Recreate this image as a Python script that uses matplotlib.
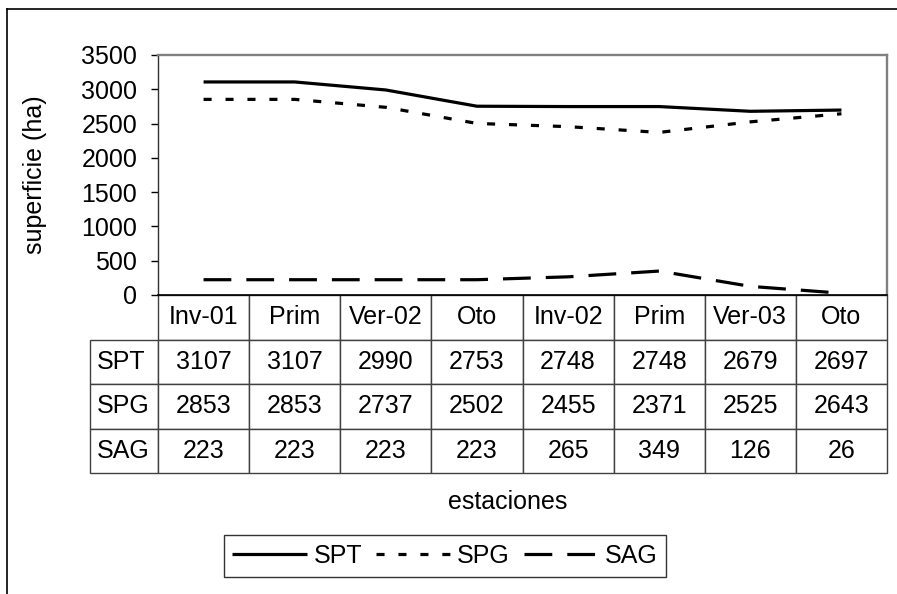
import numpy as np
import matplotlib
matplotlib.use("Agg")
import matplotlib.pyplot as plt
from matplotlib.lines import Line2D
from matplotlib.table import Table

plt.rcParams['font.family'] = ['Liberation Sans', 'DejaVu Sans']
plt.rcParams['lines.scale_dashes'] = False

estaciones = ["Inv-01", "Prim", "Ver-02", "Oto", "Inv-02", "Prim", "Ver-03", "Oto"]
series = ["SPT", "SPG", "SAG"]
spt = [3107, 3107, 2990, 2753, 2748, 2748, 2679, 2697]
spg = [2853, 2853, 2737, 2502, 2455, 2371, 2525, 2643]
sag = [223, 223, 223, 223, 265, 349, 126, 26]
y_ticks = [0, 500, 1000, 1500, 2000, 2500, 3000, 3500]

W, H = 897, 594
fig = plt.figure(figsize=(W / 100, H / 100), dpi=100)

# marco exterior del grafico (solo se ven el borde izquierdo y el superior)
fig.add_artist(Line2D([7 / W, 7 / W], [0, 1 - 9 / H], color='black', lw=1.2, transform=fig.transFigure))
fig.add_artist(Line2D([7 / W, 1], [1 - 9 / H, 1 - 9 / H], color='black', lw=1.2, transform=fig.transFigure))

ax = fig.add_axes([158 / W, 1 - 295 / H, 729 / W, 240 / H])
x = np.arange(len(estaciones))

ax.plot(x, spt, color='black', lw=2.3, solid_capstyle='butt', label="SPT")
ax.plot(x, spg, color='black', lw=2.3, dashes=(5.8, 10.0), dash_capstyle='butt', label="SPG")
ax.plot(x, sag, color='black', lw=2.3, dashes=(20, 10.8), dash_capstyle='butt', label="SAG")

ax.set_xlim(-0.5, len(estaciones) - 0.5)
ax.set_ylim(0, 3500)
ax.set_yticks(y_ticks)
ax.set_xticks([])
ax.tick_params(axis='y', direction='out', length=5, width=1, pad=10, labelsize=18)

for side in ('top', 'right'):
    ax.spines[side].set_color('#808080')
    ax.spines[side].set_linewidth(1.7)
ax.spines['left'].set_color('#303030')
ax.spines['left'].set_linewidth(1)
ax.spines['bottom'].set_color('black')
ax.spines['bottom'].set_linewidth(1.2)

ax.set_ylabel("superficie (ha)", fontsize=18)
ax.yaxis.set_label_coords((47 - 158) / 729, 0.5)

# tabla de datos bajo el eje; el bbox cubre solo las columnas de datos,
# la columna de nombres de serie queda a la izquierda
col_w = 1 / len(estaciones)
row_w = 68 / 729
tab_h = 178 / 240
cell_h = tab_h / 4
tbl = Table(ax, bbox=[0, -tab_h, 1, tab_h])
for j, name in enumerate(estaciones):
    tbl.add_cell(0, j, col_w, cell_h, text=name, loc='center')
for i, (name, vals) in enumerate(zip(series, (spt, spg, sag))):
    tbl.add_cell(i + 1, -1, row_w, cell_h, text=name, loc='left')
    for j, v in enumerate(vals):
        tbl.add_cell(i + 1, j, col_w, cell_h, text=str(v), loc='center')
tbl.auto_set_font_size(False)
tbl.set_fontsize(18)
for cell in tbl.get_celld().values():
    cell.set_edgecolor('#404040')
    cell.set_linewidth(1)
ax.add_table(tbl)

fig.text(508 / W, 1 - 502 / H, "estaciones", fontsize=18, ha='center', va='center')

leg = fig.legend(loc='center', bbox_to_anchor=(445 / W, 1 - 556 / H), ncol=3,
                 fontsize=18, frameon=True, fancybox=False, edgecolor='black',
                 handlelength=3.0, handletextpad=0.25, columnspacing=0.55,
                 borderpad=0.35)
leg.get_frame().set_linewidth(1)

fig.savefig("out.png", dpi=100)
